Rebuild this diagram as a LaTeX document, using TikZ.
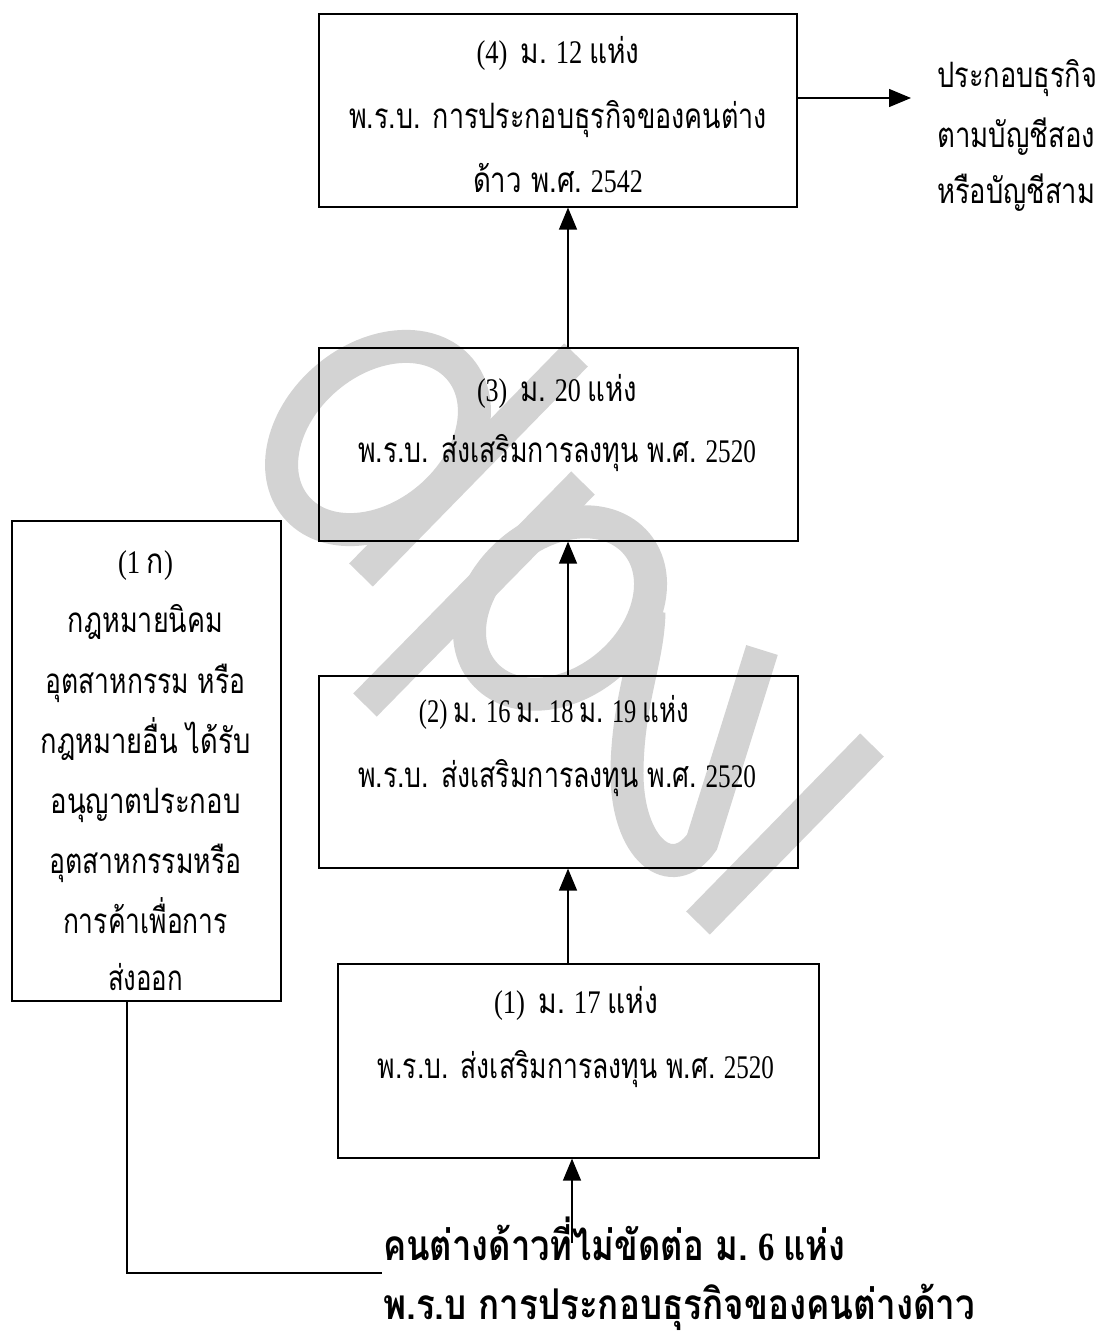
\documentclass[tikz,border=0pt]{standalone}
\usepackage{fontspec}
\setmainfont{Liberation Serif}
\newfontfamily\thaifont[Script=Thai,Scale=1.06]{Loma}
\usetikzlibrary{arrows.meta}
\definecolor{wm}{RGB}{211,211,211}
\newcommand\T[1]{{\thaifont #1}}
\newcommand\fitw[2]{\resizebox{#1pt}{\height}{#2}}
\begin{document}
\begin{tikzpicture}[x=1pt,y=-1pt,
  wmark/.style={draw=wm,line width=33pt},
  box/.style={draw,line width=1.6pt,inner sep=0pt,anchor=north west},
  txt/.style={inner sep=0pt,anchor=base,font=\fontsize{33}{38}\selectfont},
  ltxt/.style={inner sep=0pt,anchor=base west,font=\fontsize{33}{38}\selectfont},
  btxt/.style={inner sep=0pt,anchor=base west,font=\bfseries\fontsize{40}{46}\selectfont},
  conn/.style={line width=1.3pt},
  arr/.style={line width=1.3pt,-{Triangle[length=22pt,width=18pt]}}]
\useasboundingbox (0,0) rectangle (1103,1333);
\fill[white] (0,0) rectangle (1103,1333);
% watermark
\begin{scope}[shift={(378,438)},rotate=40]
  \draw[wmark] (0,0) ellipse [x radius=107pt,y radius=79pt];
\end{scope}
\draw[wmark] (576,355) -- (361,575);
\draw[wmark] (583,483) -- (365,705);
\begin{scope}[shift={(560,608)},rotate=40]
  \draw[wmark] (0,0) ellipse [x radius=100pt,y radius=75pt];
\end{scope}
\draw[wmark] (649,612) .. controls (648,660) and (628,700) .. (627,770) .. controls (626,850) and (672,885) .. (702,842) -- (762,650);
\draw[wmark] (872,745) -- (698,923);
% boxes
\node[box,minimum width=478pt,minimum height=193pt] (b4) at (318,13) {};
\node[box,minimum width=479pt,minimum height=193pt] (b3) at (318,347) {};
\node[box,minimum width=479pt,minimum height=192pt] (b2) at (318,675) {};
\node[box,minimum width=481pt,minimum height=194pt] (b1) at (337,963) {};
\node[box,minimum width=269pt,minimum height=480pt] (b1k) at (11,520) {};
% box texts
\node[txt] (t4a) at (558,63) {\fitw{163}{(4)\ \ \T{ม.} 12 \T{แห่ง}}};
\node[txt] (t4b) at (558,128) {\fitw{418}{\T{พ.ร.บ. การประกอบธุรกิจของคนต่าง}}};
\node[txt] (t4c) at (558,192) {\fitw{170}{\T{ด้าว พ.ศ.} 2542}};
\node[txt] (t3a) at (557,401) {\fitw{160}{(3)\ \ \T{ม.} 20 \T{แห่ง}}};
\node[txt] (t3b) at (557,462) {\fitw{398}{\T{พ.ร.บ. ส่งเสริมการลงทุน พ.ศ.} 2520}};
\node[txt] (t2a) at (554,722) {\fitw{270}{(2) \T{ม.} 16 \T{ม.} 18 \T{ม.} 19 \T{แห่ง}}};
\node[txt] (t2b) at (557,787) {\fitw{398}{\T{พ.ร.บ. ส่งเสริมการลงทุน พ.ศ.} 2520}};
\node[txt] (t1a) at (576,1013) {\fitw{164}{(1)\ \ \T{ม.} 17 \T{แห่ง}}};
\node[txt] (t1b) at (576,1078) {\fitw{396}{\T{พ.ร.บ. ส่งเสริมการลงทุน พ.ศ.} 2520}};
% left box texts
\node[txt] (k1) at (145.5,573) {\fitw{55}{(1 \T{ก})}};
\node[txt] (k2) at (145.5,632) {\fitw{155}{\T{กฎหมายนิคม}}};
\node[txt] (k3) at (145.5,693) {\fitw{200}{\T{อุตสาหกรรม หรือ}}};
\node[txt] (k4) at (145.5,753) {\fitw{210}{\T{กฎหมายอื่น ได้รับ}}};
\node[txt] (k5) at (145.5,813) {\fitw{190}{\T{อนุญาตประกอบ}}};
\node[txt] (k6) at (145.5,873) {\fitw{192}{\T{อุตสาหกรรมหรือ}}};
\node[txt] (k7) at (145.5,933) {\fitw{165}{\T{การค้าเพื่อการ}}};
\node[txt] (k8) at (145.5,990) {\fitw{75}{\T{ส่งออก}}};
% right texts
\node[ltxt] (r1) at (937,87) {\fitw{160}{\T{ประกอบธุรกิจ}}};
\node[ltxt] (r2) at (937,147) {\fitw{158}{\T{ตามบัญชีสอง}}};
\node[ltxt] (r3) at (937,203) {\fitw{158}{\T{หรือบัญชีสาม}}};
% bottom texts
\node[btxt] (s1) at (383,1260) {\fitw{462}{\T{คนต่างด้าวที่ไม่ขัดต่อ ม.} 6 \T{แห่ง}}};
\node[btxt] (s2) at (383,1319) {\fitw{592}{\T{พ.ร.บ การประกอบธุรกิจของคนต่างด้าว}}};
% connectors
\coordinate (ax) at (568,0);
\coordinate (bx) at (572,0);
\coordinate (rtip) at (911,98);
\coordinate (bstart) at (572,1243);
\coordinate (lx) at (127,0);
\coordinate (lcorner) at (127,1273);
\coordinate (lend) at (382,1273);
\draw[arr] (b3.north -| ax) -- (b4.south -| ax);
\draw[arr] (b2.north -| ax) -- (b3.south -| ax);
\draw[arr] (b1.north -| ax) -- (b2.south -| ax);
\draw[arr] (bstart) -- (b1.south -| bx);
\draw[arr] (b4.east |- rtip) -- (rtip);
\draw[conn] (b1k.south -| lx) -- (lcorner) -- (lend);
\end{tikzpicture}
\end{document}
